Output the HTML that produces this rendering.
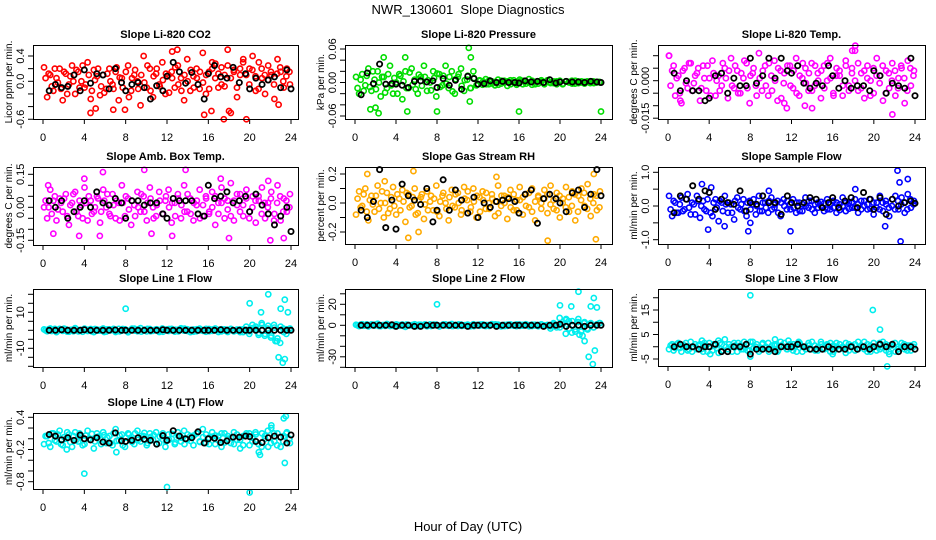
<!DOCTYPE html>
<html><head><meta charset="utf-8"><style>
html,body{margin:0;padding:0;background:#fff}
svg{display:block;font-family:"Liberation Sans",Arial,sans-serif}
</style></head><body>
<svg id="c" width="936" height="540" viewBox="0 0 936 540">
<text x="468" y="14" text-anchor="middle" font-size="13">NWR_130601&#160; Slope Diagnostics</text>
<text x="468" y="531" text-anchor="middle" font-size="13">Hour of Day (UTC)</text>
</svg>
<script>
const blackHours=[0.6,1.2,1.8,2.4,3,3.6,4,4.6,5.2,5.8,6.4,7,7.6,8,8.6,9.2,9.8,10.4,11,11.6,12,12.6,13.2,13.8,14.4,15,15.6,16,16.6,17.2,17.8,18.4,19,19.6,20,20.6,21.2,21.8,22.4,23,23.6,24];
const xTicks=[0,4,8,12,16,20,24];

const co2Vals=[.22,-.25,.1,-.15,.05,.2,-.3,.12,-.05,.25,-.2,.15,0,-.1,.3,-.28,.18,.08,-.22,.1,-.12,.2,-.05,.15,-.3,.05,-.45,.25,-.15,.1,0,-.38,.4,-.1,.2,-.25,.12,-.05,.3,-.2,.1,.15,-.1,.25,.05,-.3,.35,-.15,.08,.2,-.12,.45,-.2,.15,.3,.05,-.1,.22,-.08,.5,-.5,.18,-.25,.1,.35,-.6,.2,.4,-.15,.3,.05,-.2,.25,.1,-.28,.35,.15,-.1,.2,-.05];
const co2Vals2=[.05,.12,-.08,.2,-.02,-.12,.15,-.2,.08,.0,.18,-.1,.25,-.05,.1,-.15,.02,.2,-.08,-.18,.12,.0,-.12,.22,.06,-.1,.15,-.25,.05,.18,-.12,.1,-.02,.25,-.15,.08,.2,-.08,.02,.12,-.18,.05,.22,-.05,-.15,.1,.0,.18,-.1,.05,.15,-.02,.1,-.12,.2,.28,.12,-.05,.1,.25,.05,.15,-.1,.2,.3,.1,-.05,.18,.08,-.12,.2,.1,.02,.15,-.05,.12,.22,.0,.08,.15];
const co2ExtraH=[4.6,5.1,6.8,15.6,16.3,17.5,18,22.8,12.5,13];
const co2ExtraV=[-.5,-.43,-.45,-.53,-.47,-.6,-.47,-.37,.47,.5];
const co2Black=[-.15,-.05,-.1,-.08,.1,-.15,.18,-.03,.12,.1,-.12,.2,-.02,-.15,-.05,-.02,-.1,-.28,-.07,-.15,.08,.3,.15,-.03,.14,-.05,-.28,.12,.25,.07,.05,.22,-.02,.12,-.12,.05,-.05,.02,.07,-.1,.18,-.12];

const presVals=[.01,-.02,.015,-.005,.025,-.015,.005,.02,-.025,.01,-.01,.03,-.02,0,.015,-.03,.02,-.01,.025,.005,-.02,.01,.03,-.015,0,.02,-.025,.015,-.005,.03,-.01,.02,-.02,.01,.025,-.015,.005,-.01,.02,-.005,.004,-.004,.006,-.003,.002,-.005,.005,-.002,.003,-.006,.004,0,-.004,.005,-.003,.002,.006,-.004,.001,-.002,.004,-.003,.003,-.001,.002,-.003,.003,-.002,.002,0,-.002,.003,-.001,.002,-.002,.001,.002,-.001,.001,0];
const presVals2=[-.01,.005,-.015,.012,-.008,.02,-.012,.0,.01,-.018,.015,-.005,.008,-.02,.012,.002,-.01,.018,-.004,-.012,.014,-.006,.01,.004,-.014,.008,.016,-.008,.012,-.002,.01,-.016,.006,.015,-.006,.004,.012,-.01,.008,-.004,.003,.002,-.003,.004,-.002,.001,-.004,.003,.0,.002,-.003,.004,-.001,.002,.003,-.002,.0,.003,-.003,.002,.001,-.002,.004,.0,-.001,.002,.001,-.003,.002,.001,.003,-.002,.002,.0,.001,.002,-.001,.002,.0,.001];
const presExtraH=[1.5,2.3,2.8,4.9,5.1,8,11.1,11.3,16,24,2,11.2];
const presExtraV=[-.048,-.055,.045,.045,-.052,-.052,.062,.045,-.052,-.052,-.045,-.034];
const presBlack=[-.022,.017,-.002,.033,-.003,-.002,-.003,-.005,-.009,.002,.003,.001,.003,-.009,.007,-.005,.004,-.012,.011,.007,-.003,-.002,.003,0,.002,0,0,-.001,.003,.001,.002,0,.005,-.001,.001,.002,.001,.001,0,.002,.001,0];

const tempVals=[.01,.004,-.006,.002,-.009,.005,-.003,.007,-.001,.003,-.008,.006,-.004,.001,.008,-.006,.002,-.002,.005,-.007,.009,-.003,.004,-.005,.001,.007,-.009,.003,-.002,.011,-.004,.006,-.006,.002,.008,-.008,.004,-.001,-.011,.006,-.003,.009,-.006,.001,.005,-.004,.007,-.002,.003,-.007,.006,0,.009,-.005,.002,.004,-.006,.008,-.002,.005,.012,-.004,.003,-.007,.006,0,-.005,.009,.002,-.008,.004,-.003,.007,-.006,.001,.005,-.009,.008,-.002,.004];
const tempVals2=[-.002,.006,.001,-.005,.004,-.001,.007,-.004,.002,.005,-.003,.001,.006,-.006,.003,.0,-.004,.007,.001,.004,-.002,.006,-.005,.003,.008,-.003,.002,.005,-.006,.001,.004,-.002,.007,-.004,.0,.005,-.007,.003,.006,-.002,.004,-.005,.002,.007,-.001,.003,-.004,.006,.0,.004,-.003,.007,.001,-.006,.005,.002,-.002,.006,-.004,.003,.0,.007,-.003,.004,.001,-.006,.005,.002,-.001,.006,-.005,.003,.0,.004,-.003,.006,.001,-.004,.005,.002];
const tempExtraH=[17.9,18.2,21.8,14,13.3,11.3,1.2,0.1];
const tempExtraV=[.012,.014,-.0135,-.011,-.01,-.009,-.008,.01];
const tempBlack=[.003,-.004,0,-.004,-.004,-.008,-.007,.002,.003,-.005,.001,-.002,-.002,.009,-.001,.002,.009,.001,.009,.004,.003,.006,-.001,-.003,-.001,-.002,.006,.002,-.003,0,-.003,-.002,-.002,-.004,.004,.002,-.005,-.001,-.002,-.003,.009,-.006];

const ambVals=[0,-.05,.08,.03,-.06,.04,-.02,.06,-.08,.02,.07,-.04,.01,.09,-.06,.03,-.02,.05,-.07,.08,0,-.03,.06,-.05,.02,.1,-.04,.04,-.08,.01,.07,-.02,.05,-.06,.09,0,-.04,.07,-.03,.03,.08,-.07,.02,.06,-.05,.1,-.02,.04,-.06,.01,.08,-.04,.05,-.03,.07,-.08,.02,.09,-.05,.03,.11,-.06,.01,.06,-.04,.08,-.02,.05,-.07,.03,.09,-.05,.02,.07,-.03,.1,-.06,.04,-.02,.06];
const ambVals2=[.03,.0,-.03,.05,-.01,.02,.04,-.04,.01,.06,-.02,.03,-.05,.02,.05,-.03,.0,.04,-.02,.03,.06,-.04,.01,.03,-.06,.02,.05,-.01,.03,-.04,.0,.06,-.02,.02,.04,-.05,.01,.03,-.03,.05,.0,.02,-.04,.04,.01,-.02,.06,-.03,.02,.03,-.05,.01,.04,-.02,.0,.05,-.03,.02,.04,-.01,-.04,.03,.06,-.02,.01,.04,-.05,.0,.03,.05,-.03,.02,.0,.04,-.06,.02,.05,-.02,.03,.0];
const ambExtraH=[0.5,1,3.5,4,5.8,9.8,13.8,12.5,17.2,18,21.8,22,23.3,5.5,10.5];
const ambExtraV=[.1,-.12,-.13,.13,.16,.17,.17,-.13,.13,-.14,.12,-.15,-.14,-.13,-.12];
const ambBlack=[.03,0,.03,-.05,-.02,0,.03,0,.07,.02,.01,.04,.02,-.05,.03,.03,.01,.02,.02,-.03,-.05,.04,.03,.03,.03,-.03,-.04,.1,.04,.05,.07,.02,.03,.05,-.02,.06,.01,-.03,-.08,-.04,0,-.11];

const rhVals=[-.08,.08,-.02,.1,-.12,.05,-.06,.12,0,-.1,.07,-.04,.11,-.08,.03,.09,-.13,.06,-.02,.1,-.07,.04,-.11,.08,.01,-.05,.12,-.09,.05,0,-.12,.09,-.03,.07,-.08,.11,.02,-.06,.1,-.1,.04,.08,-.04,0,.06,-.09,.12,-.02,.05,-.11,.09,-.05,.02,.11,-.08,.06,-.03,.1,-.12,.04,0,.09,-.07,.12,-.04,.07,-.1,.03,.11,-.06,.08,-.12,.05,.1,-.02,.13,-.09,.06,-.05,.08];
const rhVals2=[.03,-.03,.06,-.06,.02,-.01,.05,-.04,.08,.0,-.07,.04,-.02,.06,-.05,.01,.07,-.03,.04,-.08,.02,.06,-.01,-.05,.05,.03,-.06,.01,.07,-.04,.04,-.02,.06,.0,-.05,.03,.08,-.03,.01,.05,-.06,.02,.07,-.04,.03,.01,-.07,.05,.0,.04,-.03,.06,-.05,.02,.04,-.02,.07,-.06,.01,.05,-.04,.03,.06,-.01,.02,-.05,.05,.0,-.03,.04,-.02,.06,-.06,.02,.07,-.04,.03,.0,.05,-.03];
const rhExtraH=[1.2,2.9,5.2,5.7,6.2,13.8,18.8,23.5,23.3];
const rhExtraV=[.2,.15,-.24,.22,-.2,.18,-.26,-.25,.2];
const rhBlack=[-.05,-.1,.01,.23,-.17,.02,-.18,.13,.05,.02,-.01,.1,-.13,-.05,.16,-.05,.09,.02,-.07,.04,-.1,0,-.03,.01,.02,.03,.01,-.07,.06,.09,-.14,.03,.06,.03,0,-.06,.07,.09,-.03,.06,.23,.05];

const flowVals=[.3,-.3,.1,-.2,.25,-.1,.35,-.25,.05,.3,-.35,.15,-.15,.4,-.3,.2,-.45,.1,.3,-.2,.05,-.4,.25,-.1,.2,-.3,.15,.05,-.25,.3,-.15,.1,-.2,.25,-.05,.15,-.3,.2,-.1,.05,.2,-.2,.1,-.15,.25,-.05,.15,-.2,.1,0,-.15,.2,-.1,.15,-.2,.05,.25,-.15,.1,-.05,.2,-.2,.15,0,-.1,.2,-.25,.1,.3,-.15,.05,-.3,.2,.3,-.1,.25,-.2,.35,-.05,.15];
const flowVals2=[-.1,.15,-.2,.05,-.15,.2,-.05,.1,-.25,.15,.0,-.1,.2,-.2,.1,-.05,.15,-.15,.05,.1,-.2,.15,-.05,.05,-.15,.1,-.1,.2,.0,-.15,.1,-.05,.15,-.1,.05,-.2,.1,.0,.15,-.1,-.05,.1,-.15,.05,.0,.15,-.1,.05,-.05,.12,.08,-.1,.05,-.05,.1,-.12,.0,.1,-.08,.12,-.05,.05,-.1,.15,.05,-.08,.1,-.05,-.1,.1,.15,-.05,.0,-.1,.15,.05,.1,-.1,.2,.05];
const flowExtraH=[3.3,3.9,4.2,5.5,7.8,8,11.9,9.8,22.3,22.5,22.6,23.3,21.1,18.2];
const flowExtraV=[.65,-.7,.55,-.6,-.75,-.5,-.75,.45,1.05,.7,-1.05,.8,-.6,.5];
const flowBlack=[-.2,.3,.2,.6,.2,.45,.4,-.1,.2,.1,.05,.45,-.15,.1,.05,.3,.1,.1,-.25,.3,.1,0,.1,.25,.2,-.05,.1,.25,-.05,.15,.25,-.05,.4,.2,-.1,.25,-.25,.2,0,.1,.15,.08];

const l1Vals=[.5,-.5,1,0,-1,.8,-.3,.6,-.8,.3,1.2,-.6,.2,.9,-.4,.7,-1,.4,-.2,1,-.7,.5,.1,-.9,.8,-.2,.6,-1.1,.3,.9,-.5,1.2,0,-.6,.7,-.3,.5,-.9,1,.2,-.4,.8,-.7,.3,1.1,-.2,.6,-1,.4,-.5,.9,.1,-.8,.7,-.3,1,.2,-.6,.5,-.9,.8,-.1,.4,-1,.6,.3,-.5,1.2,2,-1.5,3,-2,2.5,-3,1.5,-4.5,2,-1,.5,1];
const l1Vals2=[0,.6,-.4,.8,-.2,.4,.9,-.7,.2,-.5,.6,.0,-.8,.5,.3,-.6,.7,-.1,.4,-.9,.5,.0,.8,-.3,-.6,.7,.2,-.4,.9,-.2,.5,-.7,.3,.8,-.5,.1,.6,-.3,-.8,.4,.7,-.1,.3,-.6,.5,.9,-.4,.2,-.7,.6,.0,-.3,.8,-.5,.4,.1,-.9,.6,-.2,.3,.7,-.6,-.2,.5,-1,2,-2,3,1,-2.5,4,-3,1,-4,3,-6,-7,1,-2,.5];
const l1ExtraH=[8,20,21.1,21.8,23,23.4,23.7,22.8,23.2,23.4,22.5];
const l1ExtraV=[12,15,10,20,12,17,10,-15,-18,-16,-6];
const l1Black=[0,0,.3,0,0,0,.3,0,0,0,0,.2,0,0,0,0,0,0,0,.3,0,0,0,0,0,0,0,0,0,.3,0,0,0,0,0,0,0,0,0,0,0,0];

const l2Vals=[.5,-.8,1,0,-1,.8,-.3,1.5,-.8,.3,1.2,-.6,.2,.9,-.4,.7,-1.5,.4,-.2,1,-.7,.5,.1,-.9,.8,-.2,.6,-1.1,.3,.9,-.5,1.2,0,-.6,.7,-.3,.5,-.9,1,.2,-.4,.8,-.7,.3,1.1,-.2,.6,-1,.4,-.5,.9,.1,-.8,.7,-.3,1,.2,-.6,.5,-.9,.8,-.1,.4,-1,.6,.3,-2,3,5,-3,4,-6,6,-5,3,-4,2,-2,1,2];
const l2Vals2=[0,.6,-.4,.8,-.2,.4,.9,-.7,.2,-.5,.6,0,-.8,.5,.3,-.6,.7,-.1,.4,-.9,.5,0,.8,-.3,-.6,.7,.2,-.4,.9,-.2,.5,-.7,.3,.8,-.5,.1,.6,-.3,-.8,.4,.7,-.1,.3,-.6,.5,.9,-.4,.2,-.7,.6,0,-.3,.8,-.5,.4,.1,-.9,.6,-.2,.3,.7,-.6,-.2,-3,2,-2,7,1,-8,4,-7,-4,3,-6,2,-3,1,-2,.5,2];
const l2ExtraH=[8,20,21.1,21.8,23,23.3,23.6,20.6,21.9,22.4,22.8,23.2,23.4,22.2];
const l2ExtraV=[20,19,18,32,18,26,17,6,-9,-15,-30,-37,-24,-10];
const l2Black=[0,0,0,0,0,.5,-1,0,0,-1,-1,0,0,0,0,0,0,0,-1,0,0,0,0,-1,0,0,0,0,0,0,0,-1,0,0,1,-1,0,0,-1,0,0,0];

const l3Vals=[-1,1,-.5,1.5,-2,.5,-1.5,2,0,-1,1,-2,.5,1.5,-1.5,.5,-2.5,1,3,-1,0,1.5,-2,.5,-1,1,-1.5,2,0,-2,1,-.5,1.5,-1,.5,-2,2,0,-1,1,-1.5,.5,1,-2,0,1.5,-1,.5,-1.5,2,-.5,1,-2,.5,1.5,-1,0,-2.5,1,.5,-1.5,2,0,-1,1,-2,1.5,0,-1,2,-1.5,.5,1,-2,0,1.5,-1,.5,-1.5,1];
const l3Vals2=[.5,-1.5,1,-.5,0,1.5,-1,-2,1,.5,-1,1.5,-2,0,1,-.5,1.5,-1.5,0,1,-2,.5,1.5,-1,0,-1.5,2,-.5,1,-1,1.5,0,-2,.5,1,-1.5,.5,1.5,-1,-.5,1,-2,1.5,0,-1,.5,2,-1.5,0,1,-1,.5,1.5,-2,0,1,-.5,1.5,-1.5,0,1,-1,.5,2,-2,.5,0,-1.5,1.5,-.5,1,-2,.5,1.5,-1,0,1,-1.5,.5,0];
const l3ExtraH=[8,19.9,20.6,21.3,21.5,10.4,11.7,12.7,7.4,4.9,3.3,8,4.1,16];
const l3ExtraV=[21,15,7,-8,-3,3,2.5,2,2,2.5,2.5,-4,-3,-3];
const l3Black=[0,1,0,0,-1,0,0,1,-2,-2,0,0,1,-3,-1,-1,-1,-2,0,0,0,1,0,-1,-1,-1,0,-1,-1,-1,0,-1,0,-1,0,1,0,1,-2,0,0,-1];

const l4Vals=[-.1,.05,-.15,.1,-.05,.15,-.12,0,.08,-.15,.12,-.05,.05,-.1,.15,-.02,-.18,.1,0,.12,-.08,.05,-.12,.18,-.03,.08,-.15,.1,0,-.1,.15,-.05,.05,-.12,.1,-.02,.12,-.08,.05,-.15,.08,0,-.1,.12,-.05,.15,-.02,.05,-.12,.1,-.05,.18,-.08,.02,.12,-.1,.05,-.15,.1,0,-.08,.12,-.02,-.18,.05,.1,-.12,.02,.08,-.25,.1,0,-.15,.2,-.05,.1,-.15,.05,.12,-.08];
const l4Vals2=[.05,-.08,.1,-.03,.08,-.1,.03,.12,-.06,.05,-.02,.1,-.12,.06,0,.09,-.05,.04,-.1,.07,.02,-.08,.1,-.04,.06,-.12,.02,.08,-.06,.1,-.02,.05,.11,-.08,.03,.07,-.1,.04,.1,-.05,-.02,.09,-.07,.05,.02,-.1,.08,-.04,.06,.1,-.06,.03,.08,-.1,.04,.06,-.03,.1,-.07,.05,.02,-.1,.08,-.02,-.12,.06,.1,-.05,.12,-.1,-.15,.05,.15,-.08,.1,-.12,.03,-.05,.1,0];
const l4ExtraH=[4,12,20,23.3,23.5,23.4,21,7.1,2.3,22.1];
const l4ExtraV=[-.65,-.9,-1.0,.38,.42,-.45,-.3,-.25,-.2,.25];
const l4Black=[.08,.05,-.02,.02,-.03,.07,0,-.02,.02,-.06,-.08,.11,-.04,-.05,-.03,.02,-.01,-.03,-.1,.06,-.03,.15,.05,0,.02,.13,-.08,0,.01,-.07,-.04,.03,.03,.05,.04,-.05,-.07,.02,.05,.03,-.08,.07];

const panels=[
 {name:"co2",title:"Slope Li-820 CO2",ylab:"Licor ppm per min.",col:"#ff0000",vals:co2Vals,vals2:co2Vals2,eh:co2ExtraH,ev:co2ExtraV,blk:co2Black,box:[33,45,298,119],xp:[43,291],yr:[0.4,56,0,81.3],ticks:[-0.6,-0.4,-0.2,0,0.2,0.4],labels:[["-0.6",-0.6],["0.0",0],["0.4",0.4]]},
 {name:"pressure",title:"Slope Li-820 Pressure",ylab:"kPa per min.",col:"#00dd00",vals:presVals,vals2:presVals2,eh:presExtraH,ev:presExtraV,blk:presBlack,box:[345,45,612,119],xp:[355,601],yr:[0.06,49,0,82.5],ticks:[-0.06,-0.04,-0.02,0,0.02,0.04,0.06],labels:[["-0.06",-0.06],["0.00",0],["0.06",0.06]]},
 {name:"temp",title:"Slope Li-820 Temp.",ylab:"degrees C per min.",col:"#ff00ff",vals:tempVals,vals2:tempVals2,eh:tempExtraH,ev:tempExtraV,blk:tempBlack,box:[658,45,925,119],xp:[668,915],yr:[0,80.7,-0.015,118.2],ticks:[-0.015,-0.01,-0.005,0,0.005,0.01],labels:[["-0.015",-0.015],["0.000",0]]},
 {name:"amb-box-temp",title:"Slope Amb. Box Temp.",ylab:"degrees C per min.",col:"#ff00ff",vals:ambVals,vals2:ambVals2,eh:ambExtraH,ev:ambExtraV,blk:ambBlack,box:[33,167,298,245],xp:[43,291],yr:[0.15,174.3,0,207.3],ticks:[-0.15,-0.1,-0.05,0,0.05,0.1,0.15],labels:[["-0.15",-0.15],["0.00",0],["0.15",0.15]]},
 {name:"gas-rh",title:"Slope Gas Stream RH",ylab:"percent per min.",col:"#ffaa00",vals:rhVals,vals2:rhVals2,eh:rhExtraH,ev:rhExtraV,blk:rhBlack,box:[345,167,612,244],xp:[355,601],yr:[0.2,174,0,203],ticks:[-0.2,-0.1,0,0.1,0.2],labels:[["-0.2",-0.2],["0.0",0],["0.2",0.2]]},
 {name:"sample-flow",title:"Slope Sample Flow",ylab:"ml/min per min.",col:"#0000ff",vals:flowVals,vals2:flowVals2,eh:flowExtraH,ev:flowExtraV,blk:flowBlack,box:[658,167,925,244],xp:[668,915],yr:[1,172.3,0,206],ticks:[-1,-0.5,0,0.5,1],labels:[["-1.0",-1],["0.0",0],["1.0",1]]},
 {name:"line1-flow",title:"Slope Line 1 Flow",ylab:"ml/min per min.",col:"#00eeee",vals:l1Vals,vals2:l1Vals2,eh:l1ExtraH,ev:l1ExtraV,blk:l1Black,box:[33,289,298,367],xp:[43,291],yr:[10,312.3,-10,348.3],ticks:[-20,-15,-10,-5,0,5,10,15,20],labels:[["-10",-10],["10",10]]},
 {name:"line2-flow",title:"Slope Line 2 Flow",ylab:"ml/min per min.",col:"#00eeee",vals:l2Vals,vals2:l2Vals2,eh:l2ExtraH,ev:l2ExtraV,blk:l2Black,box:[345,289,612,367],xp:[355,601],yr:[20,304.3,0,325.3],ticks:[-40,-30,-20,-10,0,10,20,30],labels:[["-30",-30],["0",0],["20",20]]},
 {name:"line3-flow",title:"Slope Line 3 Flow",ylab:"ml/min per min.",col:"#00eeee",vals:l3Vals,vals2:l3Vals2,eh:l3ExtraH,ev:l3ExtraV,blk:l3Black,box:[658,289,925,366],xp:[668,915],yr:[15,310,-5,359],ticks:[-5,0,5,10,15,20],labels:[["-5",-5],["5",5],["15",15]]},
 {name:"line4-flow",title:"Slope Line 4 (LT) Flow",ylab:"ml/min per min.",col:"#00eeee",vals:l4Vals,vals2:l4Vals2,eh:l4ExtraH,ev:l4ExtraV,blk:l4Black,box:[33,413,298,489],xp:[43,291],yr:[0.4,417.3,-0.8,481.7],ticks:[-0.8,-0.6,-0.4,-0.2,0,0.2,0.4],labels:[["-0.8",-0.8],["-0.2",-0.2],["0.4",0.4]]}
];

const svg=document.getElementById('c');
const NS="http://www.w3.org/2000/svg";
function mk(tag,attrs,parent){const e=document.createElementNS(NS,tag);for(const k in attrs)e.setAttribute(k,attrs[k]);parent.appendChild(e);return e;}

panels.forEach(p=>{
  const [bx0,by0,bx1,by1]=p.box;
  const xs=h=>p.xp[0]+(h/24)*(p.xp[1]-p.xp[0]);
  const ys=v=>p.yr[1]+(v-p.yr[0])*(p.yr[3]-p.yr[1])/(p.yr[2]-p.yr[0]);
  const g=mk('g',{},svg);
  
  
  const t=mk('text',{x:(bx0+bx1)/2,y:by0-7,'text-anchor':'middle','font-size':11,'font-weight':'bold'},g);
  t.textContent=p.title;
  
  
  const yl=mk('text',{x:0,y:0,'text-anchor':'middle','font-size':10,transform:`translate(${bx0-21},${(by0+by1)/2}) rotate(-90)`},g);
  yl.textContent=p.ylab;
  
  
  const xa=mk('g',{stroke:'#000','stroke-width':1},g);
  
  
  mk('line',{x1:xs(0),x2:xs(24),y1:by1+0.5,y2:by1+0.5},xa);
  xTicks.forEach(h=>{
    mk('line',{x1:xs(h),x2:xs(h),y1:by1,y2:by1+5},xa);
    const tl=mk('text',{x:xs(h),y:by1+22,'text-anchor':'middle','font-size':11,stroke:'none',fill:'#000'},xa);
    tl.textContent=h;
    
    
  });
  const ya=mk('g',{stroke:'#000','stroke-width':1},g);
  
  
  p.ticks.forEach(v=>{mk('line',{x1:bx0-5,x2:bx0,y1:ys(v),y2:ys(v)},ya);});
  p.labels.forEach(([s,v])=>{
    const tl=mk('text',{x:0,y:0,'text-anchor':'middle','font-size':11,stroke:'none',fill:'#000',transform:`translate(${bx0-9},${ys(v)}) rotate(-90)`},ya);
    tl.textContent=s;
    
    
  });
  const pg=mk('g',{fill:'none',stroke:p.col,'stroke-width':1.6},g);
  
  
  const n=p.vals.length;
  p.vals.forEach((v,i)=>{
    const c=mk('circle',{cx:xs(0.1+i*23.8/(n-1)),cy:ys(v),r:2.6},pg);
    
    
  });
  const n2=p.vals2.length;
  p.vals2.forEach((v,i)=>{
    const c=mk('circle',{cx:xs(0.25+i*23.6/(n2-1)),cy:ys(v),r:2.6},pg);
    
    
  });
  p.eh.forEach((h,i)=>{
    const c=mk('circle',{cx:xs(h),cy:ys(p.ev[i]),r:2.6},pg);
    
    
  });
  const bg=mk('g',{fill:'none',stroke:'#000','stroke-width':1.8},g);
  
  
  const m=Math.min(blackHours.length,p.blk.length);
  for(let i=0;i<m;i++){
    const c=mk('circle',{cx:xs(blackHours[i]),cy:ys(p.blk[i]),r:2.6},bg);
    
    
  }
  const box=mk('rect',{x:bx0+0.5,y:by0+0.5,width:bx1-bx0,height:by1-by0,fill:'none',stroke:'#000','stroke-width':1},g);
  
  
});
</script>
</body></html>
